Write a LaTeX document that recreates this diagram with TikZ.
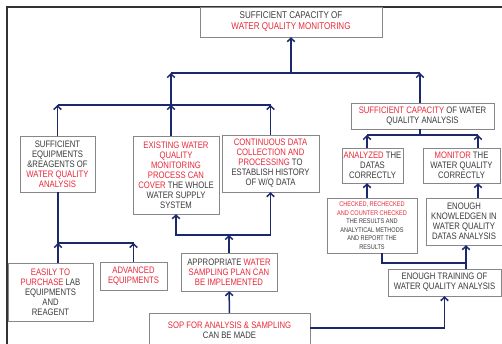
\documentclass[tikz,border=0pt]{standalone}
\usepackage{fontspec}
\setmainfont[FakeStretch=0.82]{Liberation Sans}
\usetikzlibrary{arrows.meta}

\definecolor{wqnavy}{RGB}{28,40,110}
\definecolor{wqred}{RGB}{232,42,58}
\definecolor{wqtext}{RGB}{60,60,60}
\definecolor{wqgray}{RGB}{135,135,135}
\newcommand{\redtxt}[1]{\textcolor{wqred}{#1}}

\begin{document}
\begin{tikzpicture}[x=1pt, y=-1pt,
    box/.style={draw=wqgray, fill=white, text=wqtext, align=center, inner sep=1pt,
        font=\fontsize{9.4}{10}\selectfont},
    bar/.style={wqnavy, line width=1.5pt},
    link/.style={bar, -{Straight Barb[length=3.5pt, width=7.5pt]}}]
    \useasboundingbox (0,0) rectangle (502,344);

    % Frame
    \draw[black!80, line width=1.3pt] (7,346) -- (7,7) -- (504,7);

    % Define coordinates
    \coordinate (bar1) at (291,73);
    \coordinate (bar2) at (171,105);
    \coordinate (bar3) at (229,235);
    \coordinate (bar4) at (58,243);
    \coordinate (bar5) at (420,135);
    \coordinate (bar6) at (466,263);
    \coordinate (lcol) at (367,0);
    \coordinate (rcol) at (478,0);
    \coordinate (ccol) at (382,0);

    % Draw boxes
    \node[box, minimum width=182, minimum height=30, font=\fontsize{9.8}{11}\selectfont] (goal) at (291,22)
        {SUFFICIENT CAPACITY OF\\ \redtxt{WATER QUALITY MONITORING}};
    \node[box, minimum width=143, minimum height=26] (capana) at (422.5,116)
        {\redtxt{SUFFICIENT CAPACITY} OF WATER\\ QUALITY ANALYSIS};
    \node[box, minimum width=75, minimum height=56] (equip) at (57.5,164)
        {SUFFICIENT\\ EQUIPMENTS\\ \&REAGENTS OF\\ \redtxt{WATER QUALITY}\\ \redtxt{ANALYSIS}};
    \node[box, minimum width=86, minimum height=78] (exist) at (176,175)
        {\redtxt{EXISTING WATER}\\ \redtxt{QUALITY}\\ \redtxt{MONITORING}\\ \redtxt{PROCESS CAN}\\
         \redtxt{COVER} THE WHOLE\\ WATER SUPPLY\\ SYSTEM};
    \node[box, minimum width=97, minimum height=57] (cont) at (270.5,163.5)
        {\redtxt{CONTINUOUS DATA}\\ \redtxt{COLLECTION AND}\\ \redtxt{PROCESSING} TO\\ ESTABLISH HISTORY\\ OF W/Q DATA};
    \node[box, minimum width=61, minimum height=35] (analyzed) at (372.5,165.5)
        {\redtxt{ANALYZED} THE\\ DATAS\\ CORRECTLY};
    \node[box, minimum width=77, minimum height=35] (monitor) at (461.5,165.5)
        {\redtxt{MONITOR} THE\\ WATER QUALITY\\ CORRECTLY};
    \node[box, minimum width=90, minimum height=55, font=\fontsize{6.8}{8.5}\selectfont] (checked) at (372,225.5)
        {\redtxt{CHECKED, RECHECKED}\\ \redtxt{AND COUNTER CHECKED}\\ THE RESULTS AND\\ ANALYTICAL METHODS\\
         AND REPORT THE\\ RESULTS};
    \node[box, minimum width=76, minimum height=47] (knowl) at (464,221.5)
        {ENOUGH\\ KNOWLEDGEN IN\\ WATER QUALITY\\ DATAS ANALYSIS};
    \node[box, minimum width=113, minimum height=27] (training) at (444.5,282.5)
        {ENOUGH TRAINING OF\\ WATER QUALITY ANALYSIS};
    \node[box, minimum width=96, minimum height=38] (appr) at (229,272)
        {APPROPRIATE \redtxt{WATER}\\ \redtxt{SAMPLING PLAN CAN}\\ \redtxt{BE IMPLEMENTED}};
    \node[box, minimum width=161, minimum height=34] (sop) at (229.5,330)
        {\redtxt{SOP FOR ANALYSIS \& SAMPLING}\\ CAN BE MADE};
    \node[box, minimum width=85, minimum height=58] (easy) at (50.5,292)
        {\redtxt{EASILY TO}\\ \redtxt{PURCHASE} LAB\\ EQUIPMENTS\\ AND\\ REAGENT};
    \node[box, minimum width=67, minimum height=28] (adv) at (133.5,276)
        {\redtxt{ADVANCED}\\ \redtxt{EQUIPMENTS}};

    % Top level
    \draw[link] (bar1) -- (goal);
    \draw[bar] (bar2 |- bar1) -- (bar5 |- bar1);
    \draw[link] (capana.north -| bar5) -- (bar5 |- bar1);
    \draw[link] (bar2) -- (bar2 |- bar1);

    % Left branch
    \draw[bar] (equip |- bar2) -- (cont |- bar2);
    \draw[link] (equip) -- (equip |- bar2);
    \draw[link] (exist.north -| bar2) -- (bar2);
    \draw[link] (cont) -- (cont |- bar2);

    \draw[bar] (equip.south -| bar4) -- (bar4) -- (adv |- bar4);
    \draw[link] (easy.north -| bar4) -- (bar4);
    \draw[link] (adv) -- (adv |- bar4);

    % Middle branch
    \draw[link] (appr) -- (bar3);
    \draw[link] (bar3) -| (exist);
    \draw[link] (bar3) -| (cont);
    \draw[link] (sop) -- (appr);
    \draw[link] (sop.east |- 0,328) -| (training);

    % Right branch
    \draw[bar] (capana.south -| bar5) -- (bar5);
    \draw[bar] (lcol |- bar5) -- (rcol |- bar5);
    \draw[link] (analyzed.north -| lcol) -- (lcol |- bar5);
    \draw[link] (monitor.north -| rcol) -- (rcol |- bar5);
    \draw[link] (checked.north -| lcol) -- (analyzed.south -| lcol);
    \draw[link] (knowl.north -| rcol) -- (monitor.south -| rcol);
    \draw[bar] (checked.south -| ccol) |- (bar6);
    \draw[link] (training.north -| bar6) -- (knowl.south -| bar6);

\end{tikzpicture}
\end{document}
